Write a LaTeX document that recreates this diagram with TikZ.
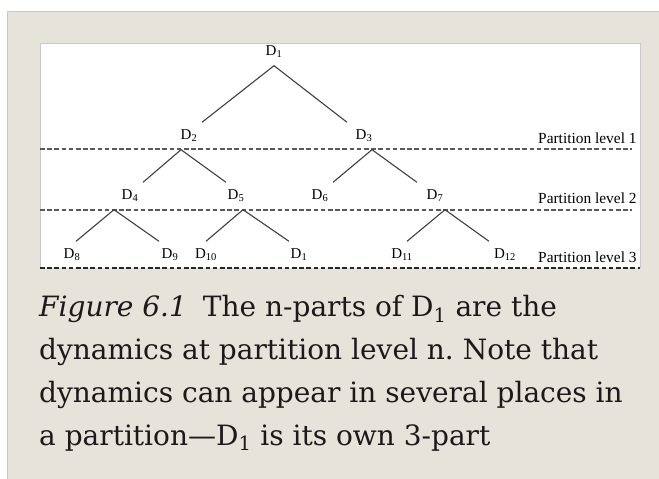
\documentclass[tikz,border=0pt]{standalone}
\usepackage{fontspec}
\setmainfont{DejaVu Serif}
\newfontfamily\treefont{Liberation Serif}
\frenchspacing
\definecolor{panelbg}{HTML}{E6E4DA}
\definecolor{panelrule}{HTML}{C9C9C9}
\definecolor{treeline}{HTML}{404040}
\definecolor{captext}{HTML}{1A1A1A}

\begin{document}
\begin{tikzpicture}[x=1pt,y=-1pt,
    dyn/.style={font=\treefont\fontsize{15}{18}\selectfont, inner sep=0pt, minimum height=27pt},
    lvl/.style={font=\treefont\fontsize{15.4}{18}\selectfont, anchor=base west, inner sep=0pt},
    branch/.style={draw=treeline, line width=1.1pt},
    partline/.style={draw=black!65, line width=1.1pt, dash pattern=on 4.5pt off 2.7pt}]

    \useasboundingbox (0,0) rectangle (659,479);

    % Panel and white box
    \fill[panelbg] (7.5,11.5) rectangle (660,480);
    \draw[panelrule, line width=1.5pt] (7.5,480) -- (7.5,11.5) -- (660,11.5);
    \fill[white] (40,43) rectangle (640,268);
    \draw[panelrule, line width=1pt] (40,268) -- (40,43) -- (640,43) -- (640,268);

    % Partition lines
    \draw[partline] (40,149) -- (632,149);
    \draw[partline] (40,210) -- (632,210);
    \draw[partline, draw=black!85] (40,268) -- (640,268);

    % Root
    \node[dyn] (d1) at (274,52) {D\textsubscript{1}};

    % Level 1
    \node[dyn] (d2) at (189,136) {D\textsubscript{2}};
    \node[dyn] (d3) at (364,136) {D\textsubscript{3}};
    \node[lvl] (p1) at (538,143) {Partition level 1};

    % Level 2
    \node[dyn] (d4) at (130,196) {D\textsubscript{4}};
    \node[dyn] (d5) at (236,196) {D\textsubscript{5}};
    \node[dyn] (d6) at (320,196) {D\textsubscript{6}};
    \node[dyn] (d7) at (435,196) {D\textsubscript{7}};
    \node[lvl] (p2) at (538,203) {Partition level 2};

    % Level 3
    \node[dyn] (d8) at (72,255) {D\textsubscript{8}};
    \node[dyn] (d9) at (170,255) {D\textsubscript{9}};
    \node[dyn] (d10) at (206,255) {D\textsubscript{10}};
    \node[dyn] (d1b) at (299,255) {D\textsubscript{1}};
    \node[dyn] (d11) at (402,255) {D\textsubscript{11}};
    \node[dyn] (d12) at (505,255) {D\textsubscript{12}};
    \node[lvl] (p3) at (538,262) {Partition level 3};

    % Branches
    \draw[branch] ([xshift=13pt]d2.north) -- (d1.south) -- ([xshift=-17pt]d3.north);
    \draw[branch] ([xshift=13pt]d4.north) -- ([xshift=-8pt]d2.south) -- ([xshift=-10pt]d5.north);
    \draw[branch] ([xshift=13pt]d6.north) -- ([xshift=8pt]d3.south) -- ([xshift=-18pt]d7.north);
    \draw[branch] ([xshift=4pt]d8.north) -- ([xshift=-16pt]d4.south) -- ([xshift=-11pt]d9.north);
    \draw[branch] (d10.north) -- ([xshift=7pt]d5.south) -- ([xshift=-10pt]d1b.north);
    \draw[branch] ([xshift=5pt]d11.north) -- ([xshift=10pt]d7.south) -- ([xshift=-16pt]d12.north);

    % Caption (base = last line)
    \node[anchor=base west, align=left, inner sep=0pt, text=captext,
          font=\fontsize{28}{42.7}\selectfont] (caption) at (39,445)
        {\textit{Figure 6.1}\hspace{16pt}The n-parts of D\textsubscript{1} are the\\
         dynamics at partition level n. Note that\\
         dynamics can appear in several places in\\
         a partition—D\textsubscript{1} is its own 3-part};
\end{tikzpicture}
\end{document}
